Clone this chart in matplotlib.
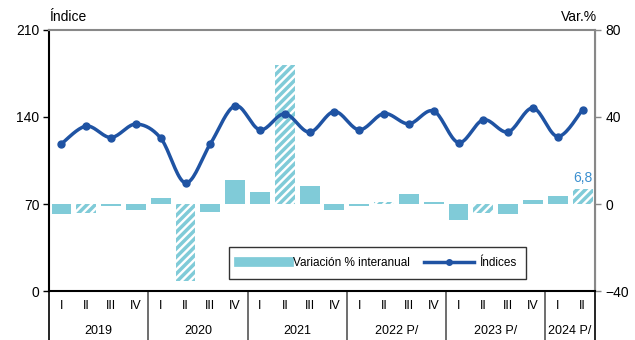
import matplotlib.pyplot as plt
import numpy as np
from matplotlib.transforms import blended_transform_factory
from matplotlib.lines import Line2D

plt.rcParams['font.family'] = ['Liberation Sans', 'DejaVu Sans']
plt.rcParams['hatch.linewidth'] = 2.5

# datos
trimestres = ['I', 'II', 'III', 'IV'] * 5 + ['I', 'II']
anios = ['2019', '2020', '2021', '2022 P/', '2023 P/', '2024 P/']
indices = [118.4, 132.7, 123.5, 134.3, 123.0, 87.0, 118.4, 149.0, 129.7, 142.6,
           127.8, 144.4, 129.7, 142.8, 134.5, 144.8, 119.4, 137.7, 128.0, 147.2,
           124.3, 145.8]
variacion = [-4.4, -4.3, -0.7, -2.6, 2.8, -35.4, -3.7, 11.0, 5.5, 63.9,
             8.4, -2.8, -0.8, 1.0, 4.5, 0.9, -7.2, -4.3, -4.4, 1.8,
             3.7, 6.8]

c_bar = '#80cbd8'
c_line = '#1f53a3'

fig = plt.figure(figsize=(6.35, 3.4), dpi=100)
ax = fig.add_axes([0.0772, 0.1441, 0.8598, 0.7677])
ax2 = ax.twinx()

x = np.arange(len(indices))

# barras en eje derecho (detras)
for i, v in enumerate(variacion):
    if trimestres[i] == 'II':
        ax2.bar(i, v, width=0.8, color='white', edgecolor=c_bar, hatch='////', linewidth=0, zorder=1)
    else:
        ax2.bar(i, v, width=0.8, color=c_bar, linewidth=0, zorder=1)
ax2.text(x[-1], variacion[-1] + 2, '6,8', color='#3b8fcf', fontsize=10, ha='center', va='bottom')

# linea suavizada (catmull-rom) en eje izquierdo
p = np.array(indices)
pp = np.concatenate([[p[0]], p, [p[-1]]])
xx = np.concatenate([[x[0]], x, [x[-1]]]).astype(float)
xs, ys = [], []
t = np.linspace(0, 1, 20)
for k in range(1, len(pp) - 2):
    for arr, out in ((xx, xs), (pp, ys)):
        p0, p1, p2, p3 = arr[k - 1], arr[k], arr[k + 1], arr[k + 2]
        out.extend(0.5 * ((2 * p1) + (-p0 + p2) * t + (2 * p0 - 5 * p1 + 4 * p2 - p3) * t ** 2
                          + (-p0 + 3 * p1 - 3 * p2 + p3) * t ** 3))
ax.set_zorder(ax2.get_zorder() + 1)
ax.patch.set_visible(False)
ax.plot(xs, ys, color=c_line, lw=2.5, zorder=3)
ax.plot(x, indices, 'o', color=c_line, ms=5, zorder=4)

ax.set_xlim(-0.5, len(x) - 0.5)
ax.set_ylim(0, 210)
ax.set_yticks([0, 70, 140, 210])
ax2.set_ylim(-40, 80)
ax2.set_yticks([-40, 0, 40, 80])
ax.set_xticks([])
for a in (ax, ax2):
    a.tick_params(labelsize=10, length=4, width=1)
ax.tick_params(axis='y', pad=3)

for s in ['top', 'right']:
    ax.spines[s].set_color('#888888')
    ax2.spines[s].set_color('#888888')
ax.spines['top'].set_linewidth(1.5)
ax2.spines['right'].set_linewidth(1.5)
ax2.spines['top'].set_visible(False)
ax2.spines['left'].set_visible(False)
ax2.spines['bottom'].set_visible(False)
ax.spines['left'].set_linewidth(1.5)
ax.spines['bottom'].set_linewidth(1.5)
ax2.tick_params(axis='y', colors='#888888', labelcolor='black')

fig.text(0.0772, 0.95, 'Índice', fontsize=10, ha='left', va='center')
fig.text(0.94, 0.95, 'Var.%', fontsize=10, ha='right', va='center')

# etiquetas eje x en dos niveles
tr = blended_transform_factory(ax.transData, fig.transFigure)
for i, q in enumerate(trimestres):
    ax.text(i, 0.10, q, transform=tr, fontsize=9, ha='center', va='center')
bounds = [0, 4, 8, 12, 16, 20, 22]
for j, an in enumerate(anios):
    ax.text((bounds[j] + bounds[j + 1] - 1) / 2, 0.027, an, transform=tr, fontsize=9,
            ha='center', va='center')
for b in bounds:
    ax.plot([b - 0.5, b - 0.5], [0.1441, 0.0], transform=tr, color='#555555' if 0 < b < 22 else 'black',
            lw=1.2, clip_on=False)

# leyenda
h1 = Line2D([], [], color=c_bar, lw=7)
h2 = Line2D([], [], color=c_line, lw=2.5, marker='o', ms=4)
leg = ax.legend([h1, h2], ['Variación % interanual', 'Índices'], loc='center',
                bbox_to_anchor=(0.6016, 0.107), ncol=2, fontsize=8.5, frameon=True,
                fancybox=False, edgecolor='black', handlelength=4.2, handletextpad=0.4,
                columnspacing=1.2, borderaxespad=0, borderpad=0.85)
leg.get_frame().set_linewidth(1)
leg.set_zorder(10)

fig.savefig('out.png', dpi=100)
